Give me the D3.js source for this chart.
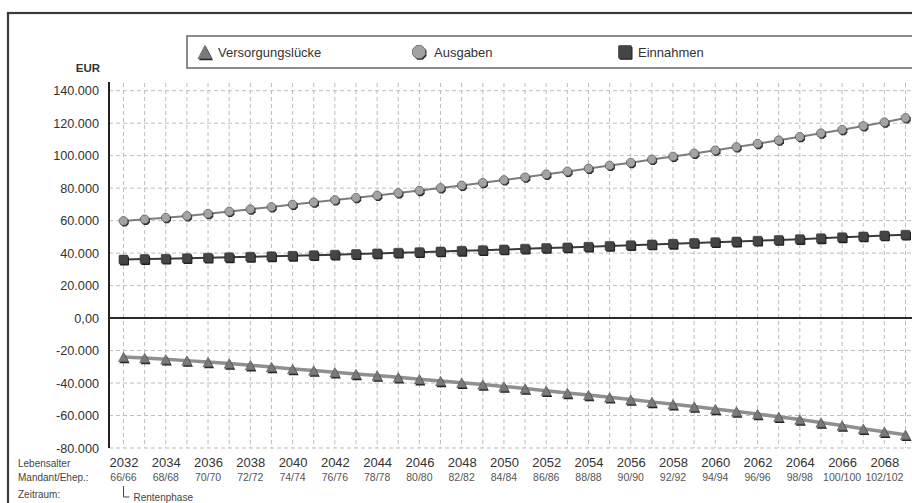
<!DOCTYPE html>
<html>
<head>
<meta charset="utf-8">
<script src="https://cdn.jsdelivr.net/npm/d3@7/dist/d3.min.js"></script>
<style>
  html, body { margin: 0; padding: 0; background: #fff; }
  svg { display: block; font-family: "Liberation Sans", Arial, sans-serif; }
</style>
</head>
<body>
<svg id="chart" width="912" height="503"></svg>
<script>
// Jahre der Rentenphase
const years = [2032,2033,2034,2035,2036,2037,2038,2039,2040,2041,2042,2043,2044,2045,2046,2047,2048,2049,2050,
               2051,2052,2053,2054,2055,2056,2057,2058,2059,2060,2061,2062,2063,2064,2065,2066,2067,2068,2069];

// Ausgaben in EUR
const ausgaben = [59800,60800,61800,62900,64300,65600,67000,68400,69900,71300,72700,74100,75500,77000,78500,80100,81700,83300,85000,
                  86700,88500,90300,92100,93900,95700,97600,99500,101400,103300,105300,107400,109500,111600,113800,116000,118300,120600,123200];

// Einnahmen in EUR
const einnahmen = [36000,36300,36500,36800,37100,37400,37700,38000,38300,38700,39000,39400,39800,40200,40600,41000,41400,41800,42200,
                   42700,43100,43500,43900,44400,44800,45300,45700,46200,46700,47100,47600,48100,48600,49100,49700,50200,50800,51300];

// Versorgungslücke in EUR
const luecke = [-24000,-24600,-25400,-26200,-27100,-28000,-29000,-30100,-31300,-32300,-33400,-34400,-35400,-36500,-37600,-38700,-39800,-40900,-42100,
                -43400,-44800,-46100,-47400,-48800,-50200,-51600,-53000,-54500,-56000,-57500,-59100,-60800,-62500,-64300,-66200,-68100,-70000,-71900];

// Achsenbeschriftungen
const yTicks = [-80000,-60000,-40000,-20000,0,20000,40000,60000,80000,100000,120000,140000];
const yTickLabels = ["-80.000","-60.000","-40.000","-20.000","0,00","20.000","40.000","60.000","80.000","100.000","120.000","140.000"];
const xTickYears = [2032,2034,2036,2038,2040,2042,2044,2046,2048,2050,2052,2054,2056,2058,2060,2062,2064,2066,2068];
const ageLabels = ["66/66","68/68","70/70","72/72","74/74","76/76","78/78","80/80","82/82","84/84","86/86","88/88","90/90",
                   "92/92","94/94","96/96","98/98","100/100","102/102"];
const legendLabels = ["Versorgungslücke","Ausgaben","Einnahmen"];

const svg = d3.select("#chart");

const plotLeft = 109, plotRight = 912, plotTop = 83, plotBottom = 448;
const x = d3.scaleLinear().domain([2032, 2069]).range([123.5, 905.5]);
const y = d3.scaleLinear().domain([-80000, 140000]).range([448, 90.7]);

// Rahmen
svg.append("rect")
  .attr("x", 8).attr("y", 13).attr("width", 940).attr("height", 520)
  .attr("fill", "none").attr("stroke", "#3a3a3a").attr("stroke-width", 2.2);

// Gitternetz
const grid = svg.append("g").attr("stroke", "#bdbdbd").attr("stroke-width", 1).attr("stroke-dasharray", "4,3");
grid.selectAll("line.v").data(years.concat([2070])).join("line")
  .attr("x1", d => x(d)).attr("x2", d => x(d))
  .attr("y1", plotTop).attr("y2", plotBottom);
grid.selectAll("line.h").data(yTicks.filter(d => d !== 0)).join("line")
  .attr("x1", plotLeft).attr("x2", plotRight)
  .attr("y1", d => y(d)).attr("y2", d => y(d));

// Y-Achse
const yAxis = d3.axisLeft(y).tickValues(yTicks).tickSize(0).tickPadding(10)
  .tickFormat((d, i) => yTickLabels[i]);
const gy = svg.append("g").attr("transform", `translate(${plotLeft},0)`).call(yAxis);
gy.select(".domain").remove();
gy.selectAll("text").attr("font-size", 12.7).attr("fill", "#333").attr("font-family", "Liberation Sans, Arial, sans-serif");
svg.append("line").attr("x1", plotLeft).attr("x2", plotLeft).attr("y1", plotTop - 1).attr("y2", plotBottom)
  .attr("stroke", "#222").attr("stroke-width", 2);

svg.append("text").attr("x", 100).attr("y", 72).attr("text-anchor", "end")
  .attr("font-size", 11.5).attr("font-weight", "bold").attr("fill", "#333").text("EUR");

// Nulllinie
svg.append("line").attr("x1", plotLeft).attr("x2", plotRight).attr("y1", y(0)).attr("y2", y(0))
  .attr("stroke", "#2a2a2a").attr("stroke-width", 2);

// X-Achse: Jahre
const xAxis = d3.axisBottom(x).tickValues(xTickYears).tickSize(0).tickPadding(0).tickFormat(d3.format("d"));
const gx = svg.append("g").attr("transform", `translate(0,${plotBottom + 10})`).call(xAxis);
gx.select(".domain").remove();
gx.selectAll("text").attr("font-size", 13).attr("fill", "#333").attr("font-family", "Liberation Sans, Arial, sans-serif");

// Altersangaben
svg.append("g").selectAll("text").data(xTickYears).join("text")
  .attr("x", d => x(d)).attr("y", 481).attr("text-anchor", "middle")
  .attr("font-size", 10.5).attr("fill", "#555").text((d, i) => ageLabels[i]);

const rowLabels = svg.append("g").attr("font-size", 10).attr("fill", "#444");
rowLabels.append("text").attr("x", 18).attr("y", 467).text("Lebensalter");
rowLabels.append("text").attr("x", 18).attr("y", 481).text("Mandant/Ehep.:");
rowLabels.append("text").attr("x", 18).attr("y", 498).text("Zeitraum:");
svg.append("path").attr("d", `M${x(2032)},486 V497 H${x(2032) + 6}`)
  .attr("fill", "none").attr("stroke", "#444").attr("stroke-width", 1);
svg.append("text").attr("x", x(2032) + 10).attr("y", 501).attr("font-size", 10).attr("fill", "#444").text("Rentenphase");

// Marker-Formen
function triangle(g, cx, cy, s) {
  const h = s * 0.95;
  g.append("path").attr("d", `M${cx + 1},${cy - h / 2 + 1.5} L${cx + s / 2 + 1},${cy + h / 2 + 1.5} L${cx - s / 2 + 1},${cy + h / 2 + 1.5}Z`)
    .attr("fill", "#222");
  g.append("path").attr("d", `M${cx},${cy - h / 2} L${cx + s / 2},${cy + h / 2} L${cx - s / 2},${cy + h / 2}Z`)
    .attr("fill", "#7a7a7a").attr("stroke", "#555").attr("stroke-width", 0.6);
}
function octagon(g, cx, cy, r) {
  const pts = d3.range(8).map(k => {
    const a = Math.PI / 8 + k * Math.PI / 4;
    return [Math.cos(a) * r, Math.sin(a) * r];
  });
  const line = d3.line();
  g.append("path").attr("d", line(pts.map(p => [cx + p[0] + 1, cy + p[1] + 1.3])) + "Z").attr("fill", "#2a2a2a");
  g.append("path").attr("d", line(pts.map(p => [cx + p[0], cy + p[1]])) + "Z")
    .attr("fill", "#a3a3a3").attr("stroke", "#555").attr("stroke-width", 0.7);
}
function square(g, cx, cy, s) {
  g.append("rect").attr("x", cx - s / 2 + 1).attr("y", cy - s / 2 + 1.3).attr("width", s).attr("height", s)
    .attr("rx", 1).attr("fill", "#1c1c1c");
  g.append("rect").attr("x", cx - s / 2).attr("y", cy - s / 2).attr("width", s).attr("height", s)
    .attr("rx", 1).attr("fill", "#454545").attr("stroke", "#333").attr("stroke-width", 0.6);
}

const line = d3.line().x((d, i) => x(years[i])).y(d => y(d));

// Versorgungslücke
svg.append("path").datum(luecke).attr("d", line).attr("fill", "none")
  .attr("stroke", "#8f8f8f").attr("stroke-width", 3.5);
const gL = svg.append("g");
luecke.forEach((v, i) => triangle(gL, x(years[i]), y(v), 10));

// Ausgaben
svg.append("path").datum(ausgaben).attr("d", line).attr("fill", "none")
  .attr("stroke", "#7d7d7d").attr("stroke-width", 2);
const gA = svg.append("g");
ausgaben.forEach((v, i) => octagon(gA, x(years[i]), y(v), 4.6));

// Einnahmen
svg.append("path").datum(einnahmen).attr("d", line).attr("fill", "none")
  .attr("stroke", "#3a3a3a").attr("stroke-width", 2);
const gE = svg.append("g");
einnahmen.forEach((v, i) => square(gE, x(years[i]), y(v), 9));

// Legende
svg.append("rect").attr("x", 187).attr("y", 36).attr("width", 760).attr("height", 32)
  .attr("fill", "#fff").attr("stroke", "#666").attr("stroke-width", 1.5);
const leg = svg.append("g");
triangle(leg, 205, 52, 14);
octagon(leg, 419, 52, 7);
square(leg, 625, 52, 13);
const legX = [218, 434, 638];
leg.selectAll("text").data(legendLabels).join("text")
  .attr("x", (d, i) => legX[i]).attr("y", 57).attr("font-size", 13).attr("fill", "#333").text(d => d);
</script>
</body>
</html>
